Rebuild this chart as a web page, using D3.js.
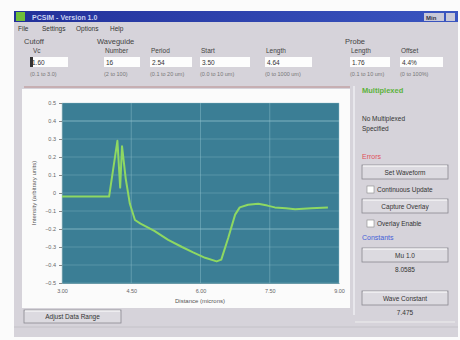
<!DOCTYPE html>
<html><head><meta charset="utf-8">
<script src="https://cdn.jsdelivr.net/npm/d3@7"></script>
<style>
html,body{margin:0;padding:0;background:#fbfbfb;}
svg{display:block;font-family:"Liberation Sans",Arial,sans-serif;}
</style></head>
<body>
<svg id="c" width="460" height="340"></svg>
<script>
// ---- data ----
const distance = [3.00,3.50,3.95,4.02,4.20,4.26,4.30,4.38,4.47,4.58,4.70,5.00,5.30,5.60,5.84,6.10,6.35,6.45,6.60,6.75,6.85,7.03,7.25,7.45,7.61,7.85,8.05,8.40,8.76];
const intensity = [-0.02,-0.02,-0.02,-0.02,0.29,0.03,0.26,0.08,-0.06,-0.15,-0.17,-0.21,-0.26,-0.30,-0.33,-0.36,-0.38,-0.37,-0.25,-0.12,-0.08,-0.065,-0.06,-0.07,-0.08,-0.085,-0.09,-0.085,-0.08];
const yTicks = [0.5,0.4,0.3,0.2,0.1,0,-0.1,-0.2,-0.3,-0.4,-0.5];
const xTicks = [3.00,4.50,6.00,7.50,9.00];
const fieldLabels = ["Vc","Number","Period","Start","Length","Length","Offset"];
const fieldValues = ["1.60","16","2.54","3.50","4.64","1.76","4.4%"];
const fieldRanges = ["(0.1 to 3.0)","(2 to 100)","(0.1 to 20 um)","(0.0 to 10 um)","(0 to 1000 um)","(0.1 to 10 um)","(0 to 100%)"];

const svg = d3.select("#c");
const bg = "#d6d3da";
// window
svg.append("rect").attr("x",14).attr("y",11).attr("width",444).attr("height",326).attr("fill",bg);
// title bar
const tg = svg.append("defs").append("linearGradient").attr("id","tb");
tg.append("stop").attr("offset","0").attr("stop-color","#22309a");
tg.append("stop").attr("offset","1").attr("stop-color","#3a55c0");
svg.append("rect").attr("x",14).attr("y",11).attr("width",444).attr("height",11).attr("fill","url(#tb)");
svg.append("rect").attr("x",16).attr("y",12).attr("width",9).attr("height",9).attr("fill","#6fbe3a");
svg.append("text").attr("x",32).attr("y",20).attr("fill","#c9d2f0").attr("font-size",7).attr("font-weight","bold").text("PCSIM - Version 1.0");
svg.append("rect").attr("x",424).attr("y",13).attr("width",20).attr("height",8).attr("fill","#c8c8d8");
svg.append("text").attr("x",426).attr("y",20).attr("font-size",6).attr("font-weight","bold").attr("fill","#334").text("Min");
svg.append("rect").attr("x",446).attr("y",13).attr("width",9).attr("height",8).attr("fill","#c8c8d8");
// menu
[["File",18],["Settings",42],["Options",76],["Help",110]].forEach(([t,x])=>{
  svg.append("text").attr("x",x).attr("y",31).attr("font-size",6.5).attr("fill","#333").text(t);
});
// group labels
[["Cutoff",24],["Waveguide",97],["Probe",345]].forEach(([t,x])=>{
  svg.append("text").attr("x",x).attr("y",44).attr("font-size",7.5).attr("fill","#444").text(t);
});
const fx = [30,104,150,200,265,350,400];
const fw = [38,36,42,50,47,40,43];
fieldLabels.forEach((l,i)=>{
  svg.append("text").attr("x",fx[i]+ (i==0?3:1)).attr("y",53).attr("font-size",6.5).attr("fill","#444").text(l);
  svg.append("rect").attr("x",fx[i]).attr("y",57).attr("width",fw[i]).attr("height",10).attr("fill","#fdfdfd");
  svg.append("text").attr("x",fx[i]+2).attr("y",65).attr("font-size",6.5).attr("fill","#333").text(fieldValues[i]);
  svg.append("text").attr("x",fx[i]).attr("y",76).attr("font-size",5.5).attr("fill","#777").text(fieldRanges[i]);
});
svg.append("rect").attr("x",30).attr("y",57).attr("width",3).attr("height",10).attr("fill","#333");
svg.append("line").attr("x1",24).attr("x2",350).attr("y1",87).attr("y2",87).attr("stroke","#b78a8a").attr("stroke-width",1);

// chart panel
svg.append("rect").attr("x",22).attr("y",89).attr("width",328).attr("height",219).attr("fill","#fbfbfb");
const m = {l:62,r:339,t:103,b:283};
const x = d3.scaleLinear().domain([3,9]).range([m.l,m.r]);
const y = d3.scaleLinear().domain([-0.5,0.5]).range([m.b,m.t]);
svg.append("rect").attr("x",m.l).attr("y",m.t).attr("width",m.r-m.l).attr("height",m.b-m.t).attr("fill","#3b7e95");
// grid
svg.append("g").selectAll("line").data(yTicks).join("line")
  .attr("x1",m.l).attr("x2",m.r).attr("y1",d=>y(d)).attr("y2",d=>y(d))
  .attr("stroke","#8fc0cc").attr("stroke-opacity",d=>(Math.abs(d-0.4)<1e-6||Math.abs(d+0.2)<1e-6)?0.8:0.35).attr("stroke-width",1);
svg.append("g").selectAll("line").data(xTicks).join("line")
  .attr("x1",d=>x(d)).attr("x2",d=>x(d)).attr("y1",m.t).attr("y2",m.b)
  .attr("stroke","#8fc0cc").attr("stroke-opacity",0.45).attr("stroke-width",1);
// axes
const ya = d3.axisLeft(y).tickValues(yTicks).tickSize(3).tickFormat(d=>d===0?"0":d3.format(".1f")(d));
const yg = svg.append("g").attr("transform",`translate(${m.l},0)`).call(ya);
const xa = d3.axisBottom(x).tickValues(xTicks).tickSize(0).tickPadding(6).tickFormat(d3.format(".2f"));
const xg = svg.append("g").attr("transform",`translate(0,${m.b})`).call(xa);
[yg,xg].forEach(g=>{
  g.select(".domain").attr("stroke","#6a9aa8");
  g.selectAll(".tick line").attr("stroke","#888");
  g.selectAll("text").attr("font-size",5.5).attr("fill","#666").attr("font-family","Liberation Sans,Arial");
});
svg.append("text").attr("transform","translate(36,193) rotate(-90)").attr("text-anchor","middle").attr("font-size",6).attr("fill","#555").text("Intensity (arbitrary units)");
svg.append("text").attr("x",200).attr("y",303).attr("text-anchor","middle").attr("font-size",6).attr("fill","#555").text("Distance (microns)");
// line
const line = d3.line().x((d,i)=>x(distance[i])).y((d,i)=>y(intensity[i]));
svg.append("path").datum(intensity).attr("d",line).attr("fill","none").attr("stroke","#8ed862").attr("stroke-width",2).attr("stroke-linejoin","round");

// right panel
svg.append("line").attr("x1",354).attr("x2",354).attr("y1",86).attr("y2",315).attr("stroke","#eeeef2").attr("stroke-width",1.5);
svg.append("text").attr("x",362).attr("y",93).attr("font-size",7.5).attr("font-weight","bold").attr("fill","#5cb23c").text("Multiplexed");
svg.append("text").attr("x",362).attr("y",121).attr("font-size",6.5).attr("fill","#333").text("No Multiplexed");
svg.append("text").attr("x",362).attr("y",131).attr("font-size",6.5).attr("fill","#333").text("Specified");
svg.append("text").attr("x",362).attr("y",159).attr("font-size",7).attr("fill","#e0505a").text("Errors");
function button(x0,y0,w,h,t){
  svg.append("rect").attr("x",x0).attr("y",y0).attr("width",w).attr("height",h).attr("fill","#dcdae0").attr("stroke","#8a8890").attr("stroke-width",0.8);
  svg.append("line").attr("x1",x0+1).attr("x2",x0+w-1).attr("y1",y0+1).attr("y2",y0+1).attr("stroke","#fff");
  svg.append("text").attr("x",x0+w/2).attr("y",y0+h/2+2.5).attr("text-anchor","middle").attr("font-size",6.5).attr("fill","#333").text(t);
}
function check(x0,y0,t){
  svg.append("rect").attr("x",x0).attr("y",y0).attr("width",7).attr("height",7).attr("fill","#fff").attr("stroke","#888").attr("stroke-width",0.6);
  svg.append("text").attr("x",x0+10).attr("y",y0+6).attr("font-size",6.5).attr("fill","#333").text(t);
}
button(362,165,86,14,"Set Waveform");
check(367,186,"Continuous Update");
button(362,199,86,14,"Capture Overlay");
check(367,220,"Overlay Enable");
svg.append("text").attr("x",362).attr("y",240).attr("font-size",7).attr("fill","#4460d8").text("Constants");
button(362,248,86,14,"Mu 1.0");
svg.append("text").attr("x",405).attr("y",272).attr("text-anchor","middle").attr("font-size",6.5).attr("fill","#333").text("8.0585");
button(362,291,86,14,"Wave Constant");
svg.append("text").attr("x",405).attr("y",315).attr("text-anchor","middle").attr("font-size",6.5).attr("fill","#333").text("7.475");
// bottom
button(24,310,97,13,"Adjust Data Range");
svg.append("line").attr("x1",355).attr("x2",455).attr("y1",322).attr("y2",322).attr("stroke","#eee");
svg.append("line").attr("x1",14).attr("x2",458).attr("y1",327).attr("y2",327).attr("stroke","#c4c2c8");
</script>
</body></html>
